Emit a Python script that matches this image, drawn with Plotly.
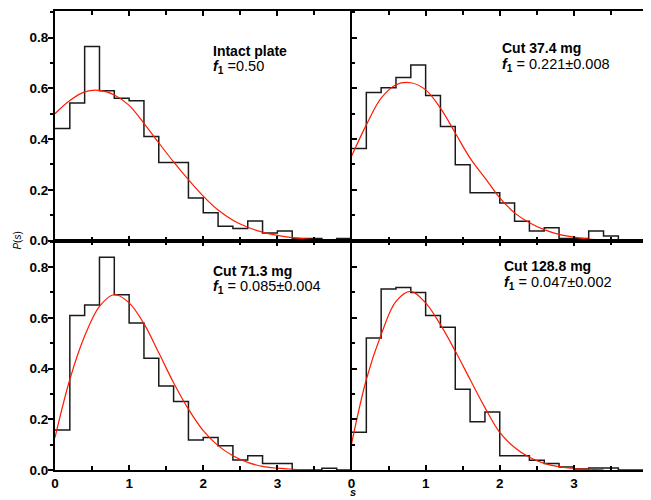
import plotly.graph_objects as go
from plotly.subplots import make_subplots

# ---------------- data ----------------
bin_edges = [0.0, 0.2, 0.4, 0.6, 0.8, 1.0, 1.2, 1.4, 1.6, 1.8, 2.0,
             2.2, 2.4, 2.6, 2.8, 3.0, 3.2, 3.4, 3.6, 3.8, 4.0]

hist_intact = [0.442, 0.542, 0.765, 0.591, 0.561, 0.551, 0.410, 0.308, 0.308, 0.168,
               0.109, 0.056, 0.047, 0.077, 0.030, 0.037, 0.008, 0.008, 0.003, 0.008]
hist_cut374 = [0.363, 0.584, 0.602, 0.643, 0.692, 0.572, 0.450, 0.299, 0.188, 0.188,
               0.148, 0.076, 0.037, 0.050, 0.008, 0.008, 0.037, 0.018, 0.0, 0.0]
hist_cut713 = [0.158, 0.609, 0.651, 0.839, 0.691, 0.580, 0.441, 0.331, 0.270, 0.118,
               0.128, 0.096, 0.039, 0.056, 0.026, 0.026, 0.0, 0.0, 0.007, 0.0]
hist_cut1288 = [0.149, 0.521, 0.714, 0.720, 0.700, 0.609, 0.563, 0.318, 0.190, 0.229,
                0.056, 0.056, 0.038, 0.026, 0.012, 0.004, 0.008, 0.008, 0.0, 0.0]

fit_x_long = [0.0, 0.2, 0.4, 0.6, 0.8, 1.0, 1.2, 1.4, 1.6, 1.8, 2.0,
              2.2, 2.4, 2.6, 2.8, 3.0, 3.2, 3.4, 3.6, 3.8, 4.0]
fit_intact = [0.500, 0.552, 0.586, 0.592, 0.574, 0.533, 0.462, 0.385, 0.310, 0.240, 0.175,
              0.120, 0.080, 0.052, 0.033, 0.020, 0.011, 0.006, 0.003, 0.001, 0.0]

fit_x = [0.0, 0.2, 0.4, 0.6, 0.8, 1.0, 1.2, 1.4, 1.6, 1.8, 2.0,
         2.2, 2.4, 2.6, 2.8, 3.0, 3.2, 3.4]
fit_cut374 = [0.332, 0.456, 0.561, 0.614, 0.622, 0.594, 0.522, 0.424, 0.325, 0.247, 0.168,
              0.109, 0.070, 0.043, 0.024, 0.013, 0.006, 0.002]
fit_cut713 = [0.128, 0.357, 0.528, 0.645, 0.692, 0.659, 0.577, 0.462, 0.344, 0.240, 0.155,
              0.096, 0.056, 0.030, 0.014, 0.007, 0.003, 0.001]
fit_cut1288 = [0.102, 0.357, 0.534, 0.665, 0.704, 0.659, 0.573, 0.469, 0.357, 0.246, 0.148,
               0.089, 0.050, 0.026, 0.013, 0.006, 0.003, 0.001]

titles = ["Intact plate", "Cut 37.4 mg", "Cut 71.3 mg", "Cut 128.8 mg"]
f1_texts = ["=0.50", "= 0.221\u00b10.008", "= 0.085\u00b10.004", "= 0.047\u00b10.002"]

x_tick_left = [0, 1, 2, 3]
x_tick_right = [0, 1, 2, 3]
x_edge_label = 4
y_ticks = [0.0, 0.2, 0.4, 0.6, 0.8]

# ---------------- figure ----------------
FONT = "Arial, Liberation Sans, sans-serif"
fig = make_subplots(rows=2, cols=2, horizontal_spacing=0, vertical_spacing=0)

panels = [
    (1, 1, hist_intact, fit_x_long, fit_intact),
    (1, 2, hist_cut374, fit_x, fit_cut374),
    (2, 1, hist_cut713, fit_x, fit_cut713),
    (2, 2, hist_cut1288, fit_x, fit_cut1288),
]
for r, c, h, fx, fy in panels:
    fig.add_trace(go.Scatter(x=bin_edges, y=h + [h[-1]], mode="lines", line_shape="hv",
                             line=dict(color="#1a1a1a", width=1.5), showlegend=False,
                             hoverinfo="skip"), row=r, col=c)
    fig.add_trace(go.Scatter(x=fx, y=fy, mode="lines", line_shape="spline",
                             line=dict(color="#ff1a00", width=1.2), showlegend=False,
                             hoverinfo="skip"), row=r, col=c)

YR = [0, 0.905]
tickfont = dict(family=FONT, size=13.5, color="black", weight="bold")
base = dict(showline=True, linecolor="black", linewidth=2, showgrid=False, zeroline=False,
            ticklen=5, tickwidth=1.5, tickcolor="black", tickfont=tickfont)

def xa(labels, tv):
    d = dict(base)
    d.update(range=[0, 4], ticks="inside", mirror="ticks", tickmode="array",
             tickvals=tv, showticklabels=labels,
             minor=dict(dtick=0.5, tick0=0, ticks="inside", ticklen=4,
                        tickwidth=1.5, tickcolor="black"))
    return d

def ya_left():
    d = dict(base)
    d.update(range=YR, ticks="outside", mirror=False, tickmode="array", tickvals=y_ticks,
             tickformat=".1f", showticklabels=True, ticklabelstandoff=-3,
             minor=dict(dtick=0.1, tick0=0, ticks="outside", ticklen=3,
                        tickwidth=1.5, tickcolor="black"))
    return d

def ya_right():
    d = dict(base)
    d.update(range=YR, ticks="inside", mirror="ticks", tickmode="array", tickvals=y_ticks,
             showticklabels=False,
             minor=dict(dtick=0.1, tick0=0, ticks="inside", ticklen=3,
                        tickwidth=1.5, tickcolor="black"))
    return d

def ya_overlay(over, anchor):
    d = dict(base)
    d.update(range=YR, ticks="inside", overlaying=over, anchor=anchor, side="right",
             tickmode="array", tickvals=y_ticks, showticklabels=False,
             minor=dict(dtick=0.1, tick0=0, ticks="inside", ticklen=3,
                        tickwidth=1.5, tickcolor="black"))
    return d

fig.update_layout(
    xaxis=xa(False, x_tick_left), xaxis2=xa(False, x_tick_right),
    xaxis3=xa(True, x_tick_left), xaxis4=xa(True, x_tick_right),
    yaxis=ya_left(), yaxis3=ya_left(),
    yaxis2=ya_right(), yaxis4=ya_right(),
    yaxis5=ya_overlay("y", "x"), yaxis6=ya_overlay("y3", "x3"),
)

# panel texts
ann = []
pos = [("x", "y", 2.11, 0.749, 0.686),
       ("x2", "y2", 2.0, 0.758, 0.692),
       ("x3", "y3", 2.11, 0.785, 0.722),
       ("x4", "y4", 2.03, 0.803, 0.738)]
for (xr, yr, x0, yt, yf), t, ft in zip(pos, titles, f1_texts):
    ann.append(dict(xref=xr, yref=yr, x=x0, y=yt, xanchor="left", yanchor="middle",
                    text="<b>" + t + "</b>", showarrow=False,
                    font=dict(family=FONT, size=14, color="black")))
    ann.append(dict(xref=xr, yref=yr, x=x0, y=yf, xanchor="left", yanchor="middle",
                    text="<b><i>f</i></b><sub><b>1</b></sub> " + ft, showarrow=False,
                    font=dict(family=FONT, size=14.5, color="black")))

# tick label "4" sitting at the very right edge (partly cut, as in the reference)
ann.append(dict(xref="paper", yref="paper", x=1.0, y=-0.005, text=str(x_edge_label),
                showarrow=False, xanchor="center", yanchor="top",
                font=tickfont))

ann.append(dict(xref="paper", yref="paper", x=-0.064, y=0.5, text="<i>P</i>(<i>s</i>)",
                textangle=-90, showarrow=False, xanchor="center", yanchor="middle",
                font=dict(family=FONT, size=10, color="black")))
ann.append(dict(xref="paper", yref="paper", x=0.5025, y=-0.049, text="<b><i>s</i></b>",
                showarrow=False, xanchor="center", yanchor="middle",
                font=dict(family=FONT, size=11, color="black")))

# the page body has an 8px margin, so the figure is sized/offset to compensate
fig.update_layout(
    annotations=ann,
    width=643, height=492,
    margin=dict(l=47, r=1, t=1.5, b=30),
    paper_bgcolor="white", plot_bgcolor="white",
    showlegend=False,
)

fig.write_html("out.html")
